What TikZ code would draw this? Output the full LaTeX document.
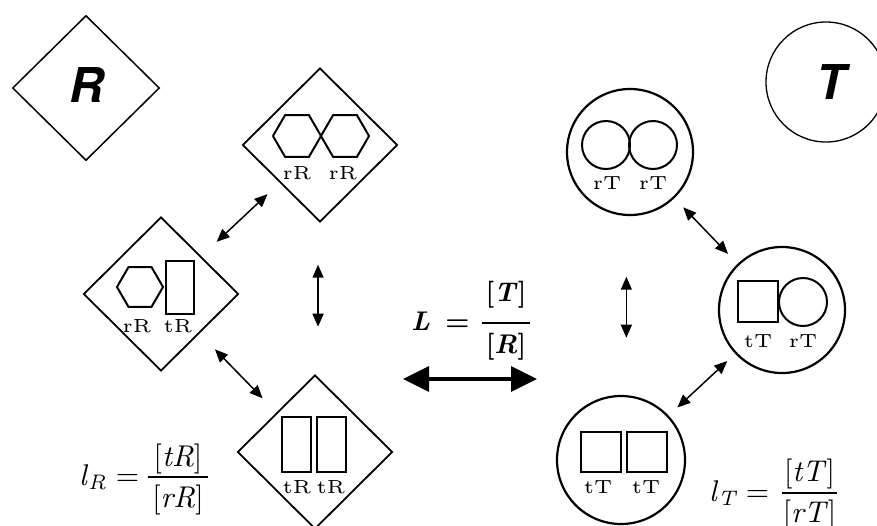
\documentclass[tikz,border=0pt]{standalone}
\usepackage{graphicx}
\usepackage{fontspec}
\newfontfamily\heros{TeX Gyre Heros}
\usetikzlibrary{shapes.geometric,arrows.meta,calc}

% small serif labels under the inner shapes (heavy small-size design, scaled up)
\newcommand{\shapelabel}[1]{\scalebox{3.8}{\fontsize{5}{6}\selectfont #1}}
% formula text: 10pt design size, scaled up
\newcommand{\eqpart}[1]{\scalebox{3}{\fontsize{10}{12}\selectfont #1}}
\newcommand{\eqsubpart}[1]{\scalebox{3}{\fontsize{7}{8}\selectfont\itshape #1}}
\newcommand{\eqboldpart}[1]{\scalebox{2.7}{\fontsize{10}{12}\selectfont\bfseries #1}}
% flat-topped regular hexagon: centre, circumradius
\newcommand{\hexat}[2]{\draw[part, shift={#1}] (0:#2) -- (60:#2) -- (120:#2) -- (180:#2) -- (240:#2) -- (300:#2) -- cycle;}

\tikzset{
  diam/.style={draw, diamond, line width=1.8pt, inner sep=0pt, minimum width=155pt, minimum height=154pt},
  ring/.style={draw, circle, line width=2.2pt, inner sep=0pt, minimum size=126pt},
  part/.style={draw, line width=2pt},
  lab/.style={anchor=base, inner sep=0pt},
  link/.style={line width=1.5pt, {Triangle[length=13pt,width=11pt]}-{Triangle[length=13pt,width=11pt]}},
  biglink/.style={line width=3.5pt, {Triangle[length=26pt,width=25pt]}-{Triangle[length=26pt,width=25pt]}},
  eqtext/.style={anchor=base, inner sep=0pt},
  fracbar/.style={line width=1.4pt},
  bigletter/.style={inner sep=0pt, font=\heros\bfseries\itshape\fontsize{48}{48}\selectfont},
}

\begin{document}
\begin{tikzpicture}[x=1pt,y=-1pt]
\useasboundingbox (0,0) rectangle (877,525);

% legend symbols
\node[draw, diamond, line width=1.5pt, inner sep=0pt, minimum width=147pt, minimum height=145pt] (legR) at (86,88) {};
\node[bigletter] (letR) at (87,85) {R};
\node[draw, circle, line width=1.3pt, inner sep=0pt, minimum size=120pt] (legT) at (826,82) {};
\node[bigletter] (letT) at (831,82) {T};

% R-state assemblies (diamonds)
\node[diam] (dT) at (320,145) {};
\node[diam] (dL) at (161,294) {};
\node[diam] (dB) at (315,452) {};

\hexat{(297,136)}{24}
\hexat{(345,136)}{24}
\node[lab] (dTa) at (297,179) {\shapelabel{rR}};
\node[lab] (dTb) at (343,179) {\shapelabel{rR}};

\hexat{(140,287)}{23}
\draw[part] (166,261) rectangle (194,314);
\node[lab] (dLa) at (137,332) {\shapelabel{rR}};
\node[lab] (dLb) at (178,332) {\shapelabel{tR}};

\draw[part] (282,417) rectangle (311,472);
\draw[part] (317,417) rectangle (346,472);
\node[lab] (dBa) at (297,493) {\shapelabel{tR}};
\node[lab] (dBb) at (331,493) {\shapelabel{tR}};

% T-state assemblies (circles)
\node[ring] (cT) at (630,152) {};
\node[ring] (cR) at (782,310) {};
\node[ring, minimum size=128pt] (cB) at (621,460) {};

\draw[part] (606,145) circle[radius=24];
\draw[part] (653,145) circle[radius=24];
\node[lab] (cTa) at (607,189) {\shapelabel{rT}};
\node[lab] (cTb) at (653,189) {\shapelabel{rT}};

\draw[part] (738,281) rectangle (778,322);
\draw[part] (803,302) circle[radius=24];
\node[lab] (cRa) at (758,347) {\shapelabel{tT}};
\node[lab] (cRb) at (803,347) {\shapelabel{rT}};

\draw[part] (581,432) rectangle (621,472);
\draw[part] (627,432) rectangle (667,472);
\node[lab] (cBa) at (598,493) {\shapelabel{tT}};
\node[lab] (cBb) at (646,493) {\shapelabel{tT}};

% equilibria within each family
\draw[link] ($(dL)!0.35!(dT)$) -- ($(dL)!0.67!(dT)$);
\draw[link] ($(dL)!0.35!(dB)$) -- ($(dL)!0.66!(dB)$);
\draw[link] ($(dT)!0.39!(dB)$) -- ++(0,62);
\draw[link] ($(cT)!0.35!(cR)$) -- ($(cT)!0.645!(cR)$);
\draw[link] ($(cR)!0.34!(cB)$) -- ($(cR)!0.65!(cB)$);
\draw[link] ($(cT)!0.405!(cB)$) -- ++(0,61);

% allosteric equilibrium L = [T]/[R]
\coordinate (bigA) at (403,379);
\coordinate (bigB) at (537,379);
\draw[biglink] (bigA) -- (bigB);
\node[eqtext, anchor=base west] (Lsym) at (411,330) {\eqboldpart{\itshape L}};
\node[eqtext] (Leq) at (457.5,330) {\eqboldpart{=}};
\node[eqtext] (Lnum) at (506,301) {\eqboldpart{[\textit{T}]}};
\node[eqtext] (Lden) at (506,353) {\eqboldpart{[\textit{R}]}};
\coordinate (LbarA) at (482,323);
\coordinate (LbarB) at (530,323);
\draw[fracbar, line width=2pt] (LbarA) -- (LbarB);

% intrinsic ratio of the R state
\node[eqtext, anchor=base west] (lRl) at (79,485) {\eqpart{\itshape l}};
\node[eqtext, anchor=base west] (lRs) at (88,489) {\eqsubpart{R}};
\node[eqtext] (lReq) at (127.5,485) {\eqpart{=}};
\node[eqtext] (lRnum) at (178,466) {\eqpart{[\textit{tR}]}};
\node[eqtext] (lRden) at (178,507) {\eqpart{[\textit{rR}]}};
\coordinate (lRbarA) at (148,477);
\coordinate (lRbarB) at (208,477);
\draw[fracbar] (lRbarA) -- (lRbarB);

% intrinsic ratio of the T state
\node[eqtext, anchor=base west] (lTl) at (709,501) {\eqpart{\itshape l}};
\node[eqtext, anchor=base west] (lTs) at (718,505) {\eqsubpart{T}};
\node[eqtext] (lTeq) at (757.5,501) {\eqpart{=}};
\node[eqtext] (lTnum) at (809.5,481) {\eqpart{[\textit{tT}]}};
\node[eqtext] (lTden) at (809.5,522) {\eqpart{[\textit{rT}]}};
\coordinate (lTbarA) at (782,493);
\coordinate (lTbarB) at (837,493);
\draw[fracbar] (lTbarA) -- (lTbarB);
\end{tikzpicture}
\end{document}
